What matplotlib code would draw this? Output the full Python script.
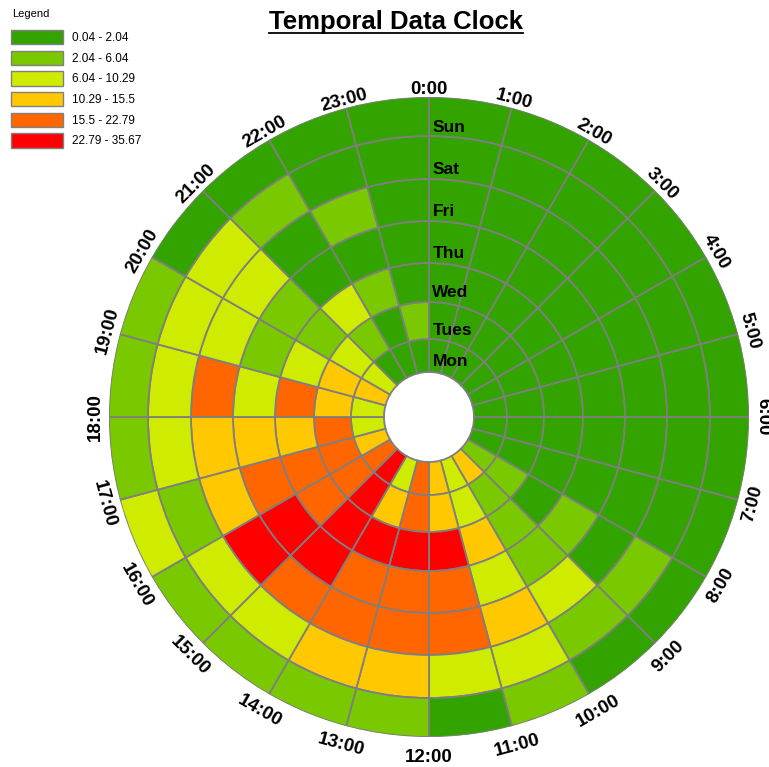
import numpy as np
import matplotlib
matplotlib.use('Agg')
import matplotlib.pyplot as plt
from matplotlib.colors import ListedColormap, BoundaryNorm
from matplotlib.patches import Patch
from matplotlib.lines import Line2D

plt.rcParams['font.family'] = ['Liberation Sans', 'DejaVu Sans']

# data: colour class (0-5) of every hour, one list per day
hours = [f'{h}:00' for h in range(24)]
days = ['Mon', 'Tues', 'Wed', 'Thu', 'Fri', 'Sat', 'Sun']
mon = [0, 0, 0, 0, 0, 0, 0, 0, 1, 3, 2, 3, 4, 2, 5, 4, 3, 2, 2, 3, 2, 0, 0, 0]
tue = [0, 0, 0, 0, 0, 0, 0, 0, 1, 1, 2, 3, 4, 3, 5, 4, 4, 4, 3, 3, 2, 1, 0, 1]
wed = [0, 0, 0, 0, 0, 0, 0, 0, 0, 1, 3, 5, 5, 5, 5, 4, 4, 3, 4, 2, 1, 2, 1, 0]
thu = [0, 0, 0, 0, 0, 0, 0, 0, 1, 1, 2, 4, 4, 4, 5, 5, 4, 3, 2, 1, 1, 0, 0, 0]
fri = [0, 0, 0, 0, 0, 0, 0, 0, 0, 2, 3, 4, 4, 4, 4, 5, 3, 3, 4, 2, 2, 0, 1, 0]
sat = [0, 0, 0, 0, 0, 0, 0, 0, 1, 1, 2, 2, 3, 3, 2, 2, 1, 2, 2, 2, 2, 1, 0, 0]
sun = [0, 0, 0, 0, 0, 0, 0, 0, 0, 0, 1, 0, 1, 1, 1, 1, 2, 1, 1, 1, 0, 0, 0, 0]
bin_labels = ['0.04 - 2.04', '2.04 - 6.04', '6.04 - 10.29',
              '10.29 - 15.5', '15.5 - 22.79', '22.79 - 35.67']
bin_colors = ['#33a300', '#7ac800', '#cfeb00', '#ffc800', '#ff6600', '#ff0000']

grid = np.array([mon, tue, wed, thu, fri, sat, sun])

# ring radii (in pixels, inner hole to outer edge) and day label radii
ring_edges = [45, 78, 115, 154, 196, 238, 281, 320]
day_label_r = [55, 86, 124, 164, 206, 247, 289]

cmap = ListedColormap(bin_colors)
norm = BoundaryNorm(np.arange(-0.5, len(bin_colors) + 0.5), cmap.N)

W, H = 769, 767
fig = plt.figure(figsize=(W / 100, H / 100), dpi=100)
cx, cy, R = 429, 417, 320
ax = fig.add_axes([(cx - R) / W, (H - cy - R) / H, 2 * R / W, 2 * R / H], projection='polar')
ax.set_theta_zero_location('N')
ax.set_theta_direction(-1)
ax.set_ylim(0, R)
ax.axis('off')

step = 2 * np.pi / 24
theta = np.arange(24) * step + step / 2
for i, day in enumerate(days):
    bottom = ring_edges[i]
    height = ring_edges[i + 1] - ring_edges[i]
    ax.bar(theta, height, width=step, bottom=bottom,
           color=cmap(norm(grid[i])), edgecolor='#7f7f7f', linewidth=1.3)

# day labels along the 0:00 line
for i, day in enumerate(days):
    ax.annotate(day, xy=(0, day_label_r[i]), xytext=(2.5, 0), textcoords='offset points',
                ha='left', va='center', fontsize=12.5, fontweight='bold')

# hour labels round the outside
for h, lab in enumerate(hours):
    ang = h * 15
    if 90 < ang < 270:
        rot = 180 - ang
    else:
        rot = -ang
    r_lab = 334 - 6 * np.cos(np.deg2rad(ang))
    ax.text(np.deg2rad(ang), r_lab, lab, rotation=rot, rotation_mode='anchor',
            ha='center', va='center', fontsize=13.5, fontweight='bold')

title = fig.text(396 / W, 1 - 22 / H, 'Temporal Data Clock', ha='center', va='center',
                 fontsize=18.5, fontweight='bold')

fig.text(12 / W, 1 - 14 / H, 'Legend', ha='left', va='center', fontsize=8)
handles = [Patch(facecolor=c, edgecolor='#808080', linewidth=1) for c in bin_colors]
leg = fig.legend(handles, bin_labels, loc='upper left',
                 bbox_to_anchor=(11 / W, 1 - 30 / H), borderaxespad=0, borderpad=0,
                 frameon=False, fontsize=8.5, handlelength=4.4, handleheight=1.47,
                 labelspacing=0.55, handletextpad=0.75)

# underline the title
fig.canvas.draw()
bb = title.get_window_extent()
fig.add_artist(Line2D([bb.x0 / W, bb.x1 / W], [(bb.y0 + 1) / H, (bb.y0 + 1) / H],
                      transform=fig.transFigure, color='black', linewidth=1.3))

fig.savefig('out.png', dpi=100)
